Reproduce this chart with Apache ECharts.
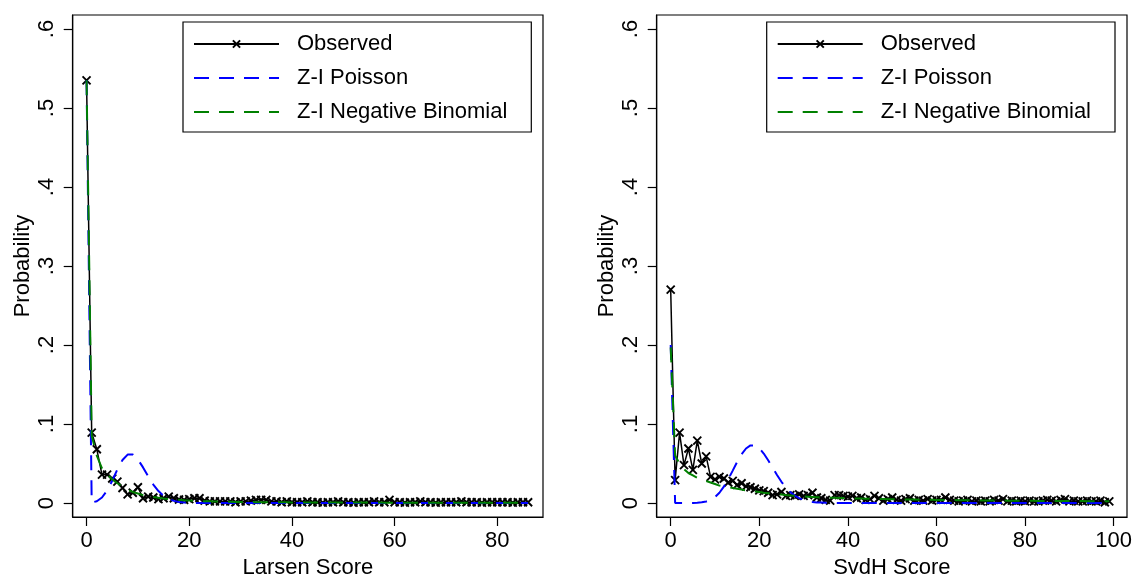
<!DOCTYPE html>
<html><head><meta charset="utf-8">
<script src="https://cdn.jsdelivr.net/npm/echarts@6/dist/echarts.min.js"></script>
<style>html,body{margin:0;padding:0;background:#fff}#c{width:1133px;height:576px}</style>
</head><body><div id="c"></div><script>
// ---- Data ----
const seriesNames = ['Observed', 'Z-I Poisson', 'Z-I Negative Binomial'];
const probTicks = [0, 0.1, 0.2, 0.3, 0.4, 0.5, 0.6];
const larsenTicks = [0, 20, 40, 60, 80];
const svdhTicks = [0, 20, 40, 60, 80, 100];

// Larsen score 0..86
const larsenObserved = [
 0.535,0.089,0.068,0.036,0.036,0.031,0.027,0.019,0.011,0.013,
 0.020,0.006,0.008,0.007,0.005,0.006,0.008,0.006,0.0045,0.004,
 0.005,0.006,0.006,0.003,0.002,0.002,0.002,0.002,0.002,0.001,
 0.002,0.002,0.003,0.004,0.004,0.004,0.002,0.002,0.001,0.002,
 0.001,0.001,0.001,0.002,0.001,0.001,0.0005,0.001,0.001,0.002,
 0.001,0.001,0.0005,0.001,0.001,0.001,0.002,0.001,0.001,0.004,
 0.001,0.001,0.0005,0.001,0.001,0.002,0.001,0.001,0.0005,0.001,
 0.001,0.001,0.001,0.002,0.001,0.001,0.001,0.0005,0.001,0.001,
 0.001,0.001,0.001,0.0005,0.001,0.001,0.001];
const larsenZIP = [
 0.535,0.0005,0.0023,0.0070,0.0157,0.0282,0.0424,0.0545,0.0613,0.0613,
 0.0551,0.0451,0.0339,0.0234,0.0151,0.0090,0.0051,0.0027,0.0013,0.0007,
 0.0003,0.0001,0,0,0,0,0,0,0,0,
 0,0,0,0,0,0,0,0,0,0,
 0,0,0,0,0,0,0,0,0,0,
 0,0,0,0,0,0,0,0,0,0,
 0,0,0,0,0,0,0,0,0,0,
 0,0,0,0,0,0,0,0,0,0,
 0,0,0,0,0,0,0];
const larsenZINB = [
 0.535,0.085,0.060,0.044,0.036,0.030,0.025,0.021,0.017,0.014,
 0.012,0.010,0.0088,0.0076,0.0066,0.0058,0.0051,0.0045,0.0040,0.0035,
 0.0031,0.0028,0.0025,0.0023,0.0021,0.0019,0.0017,0.0016,0.0015,0.0014,
 0.0013,0.0012,0.0012,0.0011,0.0011,0.0010,0.0010,0.0009,0.0009,0.0009,
 0.0008,0.0008,0.0008,0.0007,0.0007,0.0007,0.0007,0.0006,0.0006,0.0006,
 0.0006,0.0006,0.0005,0.0005,0.0005,0.0005,0.0005,0.0005,0.0004,0.0004,
 0.0004,0.0004,0.0004,0.0004,0.0004,0.0004,0.0003,0.0003,0.0003,0.0003,
 0.0003,0.0003,0.0003,0.0003,0.0003,0.0003,0.0003,0.0002,0.0002,0.0002,
 0.0002,0.0002,0.0002,0.0002,0.0002,0.0002,0.0002];

// SvdH score 0..99
const svdhObserved = [
 0.270,0.029,0.089,0.048,0.069,0.042,0.079,0.050,0.059,0.033,
 0.030,0.033,0.031,0.026,0.028,0.023,0.025,0.021,0.020,0.018,
 0.016,0.015,0.013,0.010,0.011,0.014,0.009,0.010,0.009,0.011,
 0.009,0.010,0.013,0.007,0.006,0.004,0.003,0.010,0.010,0.009,
 0.008,0.009,0.006,0.007,0.004,0.005,0.009,0.006,0.003,0.005,
 0.007,0.004,0.003,0.005,0.006,0.003,0.004,0.003,0.005,0.003,
 0.004,0.004,0.007,0.004,0.003,0.002,0.003,0.004,0.002,0.003,
 0.002,0.003,0.002,0.004,0.003,0.005,0.002,0.003,0.002,0.003,
 0.002,0.003,0.002,0.002,0.003,0.004,0.003,0.002,0.004,0.005,
 0.002,0.003,0.002,0.002,0.003,0.002,0.002,0.003,0.001,0.002];
const svdhZIP = [
 0.200,0,0,0,0,0,0.0003,0.0009,0.0019,0.0040,
 0.0076,0.0130,0.0207,0.0302,0.0410,0.0520,0.0618,0.0690,0.0729,0.0729,
 0.0693,0.0626,0.0541,0.0447,0.0354,0.0269,0.0197,0.0138,0.0094,0.0062,
 0.0039,0.0024,0.0014,0.0008,0.0005,0.0002,0,0,0,0,
 0,0,0,0,0,0,0,0,0,0,
 0,0,0,0,0,0,0,0,0,0,
 0,0,0,0,0,0,0,0,0,0,
 0,0,0,0,0,0,0,0,0,0,
 0,0,0,0,0,0,0,0,0,0,
 0,0,0,0,0,0,0,0,0,0];
const svdhZINB = [
 0.197,0.060,0.050,0.043,0.038,0.035,0.032,0.030,0.028,0.026,
 0.024,0.022,0.021,0.020,0.019,0.018,0.017,0.016,0.015,0.0145,
 0.014,0.013,0.0125,0.012,0.0113,0.0107,0.0101,0.0096,0.0091,0.0087,
 0.0083,0.0080,0.0077,0.0074,0.0072,0.0070,0.0068,0.0066,0.0064,0.0062,
 0.0060,0.0058,0.0057,0.0056,0.0054,0.0053,0.0052,0.0051,0.0050,0.0049,
 0.0048,0.0047,0.0046,0.0045,0.0044,0.0043,0.0042,0.0042,0.0041,0.0040,
 0.0039,0.0039,0.0038,0.0037,0.0037,0.0036,0.0035,0.0035,0.0034,0.0034,
 0.0033,0.0033,0.0032,0.0032,0.0031,0.0031,0.0030,0.0030,0.0029,0.0029,
 0.0028,0.0028,0.0028,0.0027,0.0027,0.0026,0.0026,0.0026,0.0025,0.0025,
 0.0025,0.0024,0.0024,0.0024,0.0023,0.0023,0.0023,0.0022,0.0022,0.0022];

// ---- Chart ----
const FONT = '"Liberation Sans", Arial, Helvetica, sans-serif';
const BLUE = '#0000ff', GREEN = '#008000';
const XMARK = 'path://M0,0L10,10M10,0L0,10';
const pairs = arr => arr.map((v, i) => [i, v]);
const probFmt = v => (v === 0 ? '0' : String(v).replace(/^0/, ''));

function xAxis(gi, min, max, ticks, name) {
  return {
    type: 'value', gridIndex: gi, min, max, name, nameLocation: 'middle', nameGap: 37,
    nameTextStyle: { fontSize: 22, color: '#000', fontFamily: FONT },
    axisLine: { show: true, onZero: false, lineStyle: { color: '#000', width: 1.2 } },
    axisTick: { show: true, inside: false, length: 9, customValues: ticks, lineStyle: { color: '#000', width: 1.2 } },
    axisLabel: { customValues: ticks, fontSize: 22, color: '#000', margin: 13, fontFamily: FONT },
    splitLine: { show: false }
  };
}
function yAxis(gi) {
  return {
    type: 'value', gridIndex: gi, min: -0.0177, max: 0.6177, name: 'Probability',
    nameLocation: 'middle', nameGap: 39, nameRotate: 90,
    nameTextStyle: { fontSize: 22, color: '#000', fontFamily: FONT },
    axisLine: { show: true, onZero: false, lineStyle: { color: '#000', width: 1.2 } },
    axisTick: { show: true, inside: false, length: 9, customValues: probTicks, lineStyle: { color: '#000', width: 1.2 } },
    axisLabel: { customValues: probTicks, rotate: 90, fontSize: 22, color: '#000', margin: 15, fontFamily: FONT, formatter: probFmt },
    splitLine: { show: false }
  };
}
function legend(left) {
  return {
    left, top: 22, orient: 'vertical',
    data: [
      { name: seriesNames[0] },
      { name: seriesNames[1], itemStyle: { opacity: 0 } },
      { name: seriesNames[2], itemStyle: { opacity: 0 } }
    ],
    itemWidth: 85, itemHeight: 9, itemGap: 12,
    padding: [11, 24, 9, 10],
    borderColor: '#000', borderWidth: 1.2, backgroundColor: '#fff',
    selectedMode: false,
    textStyle: { fontSize: 22, lineHeight: 22, color: '#000', fontFamily: FONT, padding: [0, 0, 0, 13] }
  };
}
function series(gi, obs, zip, zinb) {
  return [
    { name: 'Observed', type: 'line', xAxisIndex: gi, yAxisIndex: gi, data: pairs(obs),
      symbol: XMARK, symbolSize: 8, showSymbol: true,
      lineStyle: { color: '#000', width: 1.5 },
      itemStyle: { color: '#000', borderColor: '#000', borderWidth: 1.9 }, z: 2 },
    { name: 'Z-I Poisson', type: 'line', xAxisIndex: gi, yAxisIndex: gi, data: pairs(zip),
      symbol: 'none', lineStyle: { color: BLUE, width: 2, type: [15, 10] },
      itemStyle: { color: BLUE }, z: 3 },
    { name: 'Z-I Negative Binomial', type: 'line', xAxisIndex: gi, yAxisIndex: gi, data: pairs(zinb),
      symbol: 'none', lineStyle: { color: GREEN, width: 2, type: [15, 10] },
      itemStyle: { color: GREEN }, z: 4 }
  ];
}

const gridBase = { top: 15, width: 470.3, height: 502, show: true, borderColor: '#000', borderWidth: 1.2,
  backgroundColor: '#fff', containLabel: false, outerBoundsMode: 'none' };
const chart = echarts.init(document.getElementById('c'), null, { renderer: 'canvas' });
chart.setOption({
  animation: false,
  backgroundColor: '#fff',
  textStyle: { fontFamily: FONT },
  grid: [
    Object.assign({ left: 72.7 }, gridBase),
    Object.assign({ left: 656.7 }, gridBase)
  ],
  xAxis: [
    xAxis(0, -2.7, 88.9, larsenTicks, 'Larsen Score'),
    xAxis(1, -3.16, 103.0, svdhTicks, 'SvdH Score')
  ],
  yAxis: [yAxis(0), yAxis(1)],
  legend: [legend(183), legend(766.7)],
  series: [].concat(series(0, larsenObserved, larsenZIP, larsenZINB), series(1, svdhObserved, svdhZIP, svdhZINB))
});
</script></body></html>
